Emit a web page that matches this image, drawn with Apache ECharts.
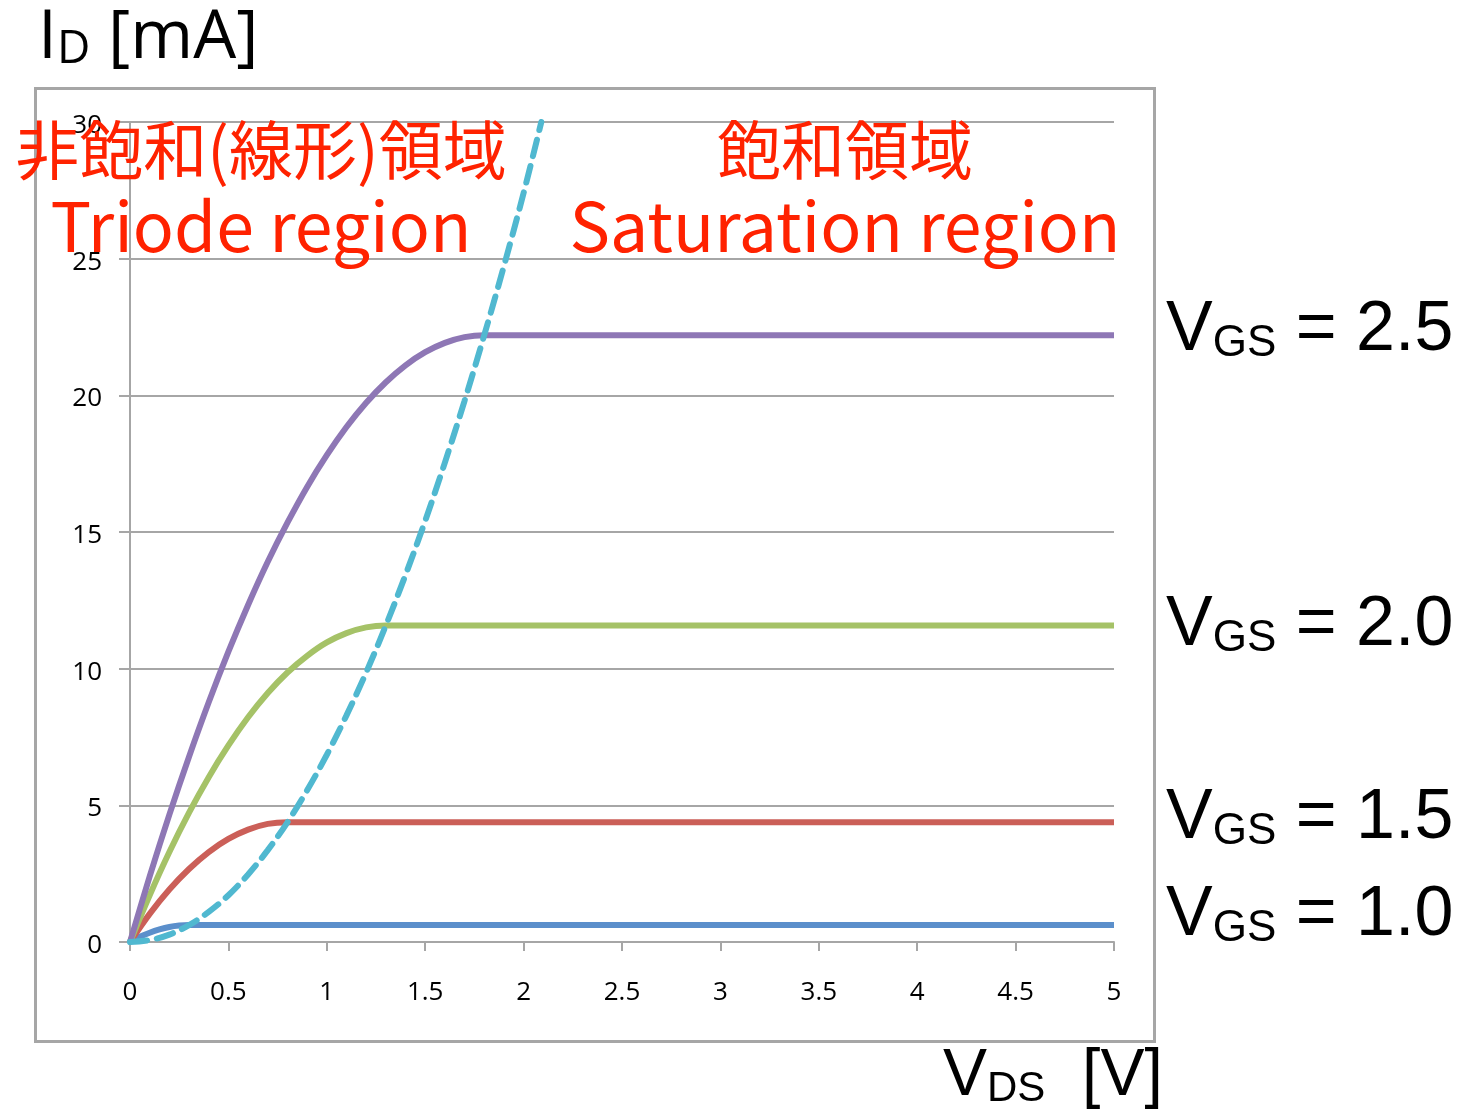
<!DOCTYPE html>
<html>
<head>
<meta charset="utf-8">
<script src="https://cdn.jsdelivr.net/npm/echarts@6/dist/echarts.min.js"></script>
<style>
  html, body { margin: 0; padding: 0; background: #fff; }
  #chart { width: 1461px; height: 1115px; }
</style>
</head>
<body>
<div id="chart"></div>
<script>
// MOSFET output characteristics: drain current ID [mA] vs drain-source voltage VDS [V]
var xTicks = [0, 0.5, 1, 1.5, 2, 2.5, 3, 3.5, 4, 4.5, 5];
var yTicks = [0, 5, 10, 15, 20, 25, 30];

// [VDS, ID] points for each gate voltage
var vgs25 = [[0, 0], [0.1, 2.4], [0.2, 4.66], [0.3, 6.78], [0.4, 8.77], [0.5, 10.62], [0.6, 12.33],
             [0.7, 13.91], [0.8, 15.34], [0.9, 16.65], [1.0, 17.81], [1.1, 18.84], [1.2, 19.73],
             [1.3, 20.48], [1.4, 21.1], [1.5, 21.58], [1.6, 21.92], [1.7, 22.13], [1.8, 22.2],
             [1.9, 22.2], [2.2, 22.2], [5, 22.2]];
var vgs20 = [[0, 0], [0.1, 1.71], [0.2, 3.29], [0.3, 4.73], [0.4, 6.03], [0.5, 7.19], [0.6, 8.22],
             [0.7, 9.11], [0.8, 9.86], [0.9, 10.47], [1.0, 10.96], [1.1, 11.3], [1.2, 11.51],
             [1.3, 11.58], [1.4, 11.58], [1.7, 11.58], [5, 11.58]];
var vgs15 = [[0, 0], [0.1, 1.03], [0.2, 1.92], [0.3, 2.67], [0.4, 3.29], [0.5, 3.77],
             [0.6, 4.11], [0.7, 4.32], [0.8, 4.38], [0.9, 4.38], [1.2, 4.38], [5, 4.38]];
var vgs10 = [[0, 0], [0.05, 0.19], [0.1, 0.34], [0.15, 0.46], [0.2, 0.55], [0.25, 0.6],
             [0.3, 0.62], [0.4, 0.62], [0.7, 0.62], [5, 0.62]];
// boundary between triode and saturation region
var edge = [[0, 0], [0.1, 0.07], [0.2, 0.27], [0.3, 0.62], [0.4, 1.1], [0.5, 1.71], [0.6, 2.47],
            [0.7, 3.36], [0.8, 4.38], [0.9, 5.55], [1.0, 6.85], [1.1, 8.29], [1.2, 9.86],
            [1.3, 11.58], [1.4, 13.43], [1.5, 15.41], [1.6, 17.54], [1.7, 19.8], [1.8, 22.2],
            [1.9, 24.73], [2.0, 27.4], [2.09, 30]];

var curveLabels = ['2.5', '2.0', '1.5', '1.0'];

var chart = echarts.init(document.getElementById('chart'), null, { renderer: 'canvas' });

var gridLeft = 130, gridTop = 122, gridRight = 1461 - 1114, gridBottom = 1115 - 942;
var red = '#ff2200';
var jp = '"Noto Sans CJK JP", sans-serif';
var latin = '"Liberation Sans", Arial, sans-serif';
var ui = '"Open Sans", sans-serif';

function curve(data, color, dashed) {
  return {
    type: 'line',
    data: data,
    smooth: 0.35,
    showSymbol: false,
    silent: true,
    z: dashed ? 4 : 3,
    lineStyle: { color: color, width: 6, type: dashed ? [17, 10] : 'solid', cap: dashed ? 'round' : 'butt' }
  };
}

function vgsText(value, y) {
  return {
    type: 'text',
    left: 1166,
    top: y - 34,
    style: {
      text: '{v|V}{s|GS}{v| = ' + value + '}',
      rich: {
        v: { fontSize: 70, fontFamily: latin, fill: '#000', verticalAlign: 'bottom', lineHeight: 80 },
        s: { fontSize: 44, fontFamily: latin, fill: '#000', verticalAlign: 'bottom', lineHeight: 80 }
      }
    }
  };
}

function axisTitle(main, sub, rest, left, top, font, big, small) {
  return {
    type: 'text', left: left, top: top,
    style: {
      text: '{a|' + main + '}{b|' + sub + '}{a|' + rest + '}',
      rich: {
        a: { fontSize: big, fontFamily: font, fill: '#000', verticalAlign: 'bottom', lineHeight: 80 },
        b: { fontSize: small, fontFamily: font, fill: '#000', verticalAlign: 'bottom', lineHeight: 80 }
      }
    }
  };
}

chart.setOption({
  animation: false,
  backgroundColor: '#fff',
  grid: { left: gridLeft, top: gridTop, right: gridRight, bottom: gridBottom },
  xAxis: {
    type: 'value',
    min: 0, max: 5, interval: 0.5,
    axisLine: { show: true, onZero: false, lineStyle: { color: '#a6a6a6', width: 2 } },
    axisTick: { show: true, length: 9, lineStyle: { color: '#a6a6a6', width: 2 } },
    splitLine: { show: false },
    axisLabel: {
      margin: 38, fontSize: 26, color: '#000', fontFamily: ui,
      formatter: function (v) { return xTicks.indexOf(v) >= 0 ? String(v) : ''; }
    }
  },
  yAxis: {
    type: 'value',
    min: 0, max: 30, interval: 5,
    axisLine: { show: true, lineStyle: { color: '#a6a6a6', width: 2 } },
    axisTick: { show: true, inside: false, length: 11, lineStyle: { color: '#a6a6a6', width: 2 } },
    splitLine: { show: true, lineStyle: { color: '#a6a6a6', width: 2 } },
    axisLabel: {
      margin: 28, color: '#000',
      formatter: function (v) { return yTicks.indexOf(v) >= 0 ? '{t|' + v + '}' : ''; },
      rich: { t: { fontSize: 26, fontFamily: ui, color: '#000', padding: [7, 0, 0, 0] } }
    }
  },
  series: [
    curve(vgs10, '#5b8fcb'),
    curve(vgs15, '#cb5f58'),
    curve(vgs20, '#a5c267'),
    curve(vgs25, '#8e77b5'),
    curve(edge, '#50b8d0', true)
  ],
  graphic: [
    {
      type: 'rect', z: -1, silent: true,
      shape: { x: 35.5, y: 88.5, width: 1119, height: 953 },
      style: { fill: 'none', stroke: '#a6a6a6', lineWidth: 3 }
    },
    axisTitle('I', 'D', ' [mA]', 38, 5, ui, 68, 46),
    axisTitle('V', 'DS', '  [V]', 943, 1044, latin, 66, 42),
    {
      type: 'text', x: 261, y: 150, z: 10,
      style: { text: '非飽和(線形)領域', fontSize: 64, fontFamily: jp, fill: red, align: 'center', verticalAlign: 'middle' }
    },
    {
      type: 'text', x: 261, y: 226, z: 10,
      style: { text: 'Triode region', fontSize: 68, fontFamily: jp, fill: red, align: 'center', verticalAlign: 'middle' }
    },
    {
      type: 'text', x: 845, y: 150, z: 10,
      style: { text: '飽和領域', fontSize: 64, fontFamily: jp, fill: red, align: 'center', verticalAlign: 'middle' }
    },
    {
      type: 'text', x: 845, y: 226, z: 10,
      style: { text: 'Saturation region', fontSize: 68, fontFamily: jp, fill: red, align: 'center', verticalAlign: 'middle' }
    },
    vgsText(curveLabels[0], 330),
    vgsText(curveLabels[1], 625),
    vgsText(curveLabels[2], 818),
    vgsText(curveLabels[3], 915)
  ]
});
</script>
</body>
</html>
